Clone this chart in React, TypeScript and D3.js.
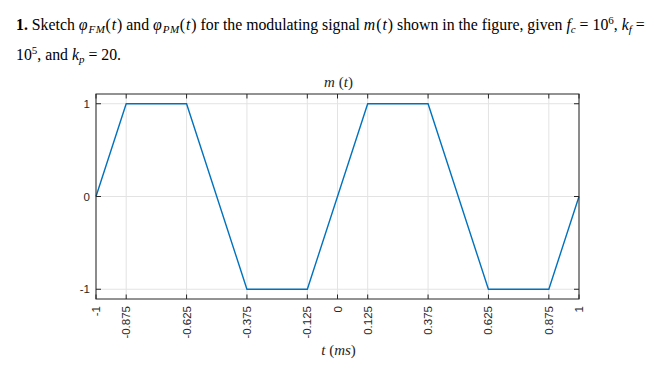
import React from "react";
import * as d3 from "d3";

// modulating signal m(t), t in ms
const timeMs = [-1, -0.875, -0.625, -0.375, -0.125, 0.125, 0.375, 0.625, 0.875, 1];
const signal = [0, 1, 1, -1, -1, 1, 1, -1, -1, 0];

const xTicks = [-1, -0.875, -0.625, -0.375, -0.125, 0, 0.125, 0.375, 0.625, 0.875, 1];
const xTickLabels = ["-1", "-0.875", "-0.625", "-0.375", "-0.125", "0", "0.125", "0.375", "0.625", "0.875", "1"];
const yTicks = [-1, 0, 1];
const yTickLabels = ["-1", "0", "1"];

const margin = { left: 96, right: 88, top: 94, bottom: 71 };
const totalWidth = 667;
const totalHeight = 370;

const axisColor = "#262626";
const gridColor = "#e3e3e3";
const lineColor = "#0072bd";

export default function App() {
  const width = totalWidth - margin.left - margin.right;
  const height = totalHeight - margin.top - margin.bottom;

  const xScale = d3.scaleLinear().domain([-1, 1]).range([0, width]);
  const yScale = d3.scaleLinear().domain([-1.105, 1.105]).range([height, 0]);

  const points = timeMs.map((t, i) => ({ x: t, y: signal[i] }));
  const line = d3
    .line<{ x: number; y: number }>()
    .x((d) => xScale(d.x))
    .y((d) => yScale(d.y));

  const serif = "'Liberation Serif', 'Times New Roman', serif";
  const sans = "'Liberation Sans', Arial, Helvetica, sans-serif";
  const fs = 15.8;
  const sub = 11;
  const ls = 1;

  return (
    <svg
      width={totalWidth}
      height={totalHeight}
      style={{ position: "absolute", left: 0, top: 0, background: "white" }}
    >
      {/* question text */}
      <text x={16} y={30} style={{ fontFamily: serif, fontSize: fs, fill: "#000" }}>
        <tspan fontWeight="bold">1.</tspan>
        <tspan> Sketch </tspan>
        <tspan fontStyle="italic" letterSpacing={ls}>φ</tspan>
        <tspan fontStyle="italic" fontSize={sub} dy={3} letterSpacing={0.5}>FM</tspan>
        <tspan dy={-3} letterSpacing={ls}>(</tspan>
        <tspan fontStyle="italic" letterSpacing={ls}>t</tspan>
        <tspan>) and </tspan>
        <tspan fontStyle="italic" letterSpacing={ls}>φ</tspan>
        <tspan fontStyle="italic" fontSize={sub} dy={3} letterSpacing={0.5}>PM</tspan>
        <tspan dy={-3} letterSpacing={ls}>(</tspan>
        <tspan fontStyle="italic" letterSpacing={ls}>t</tspan>
        <tspan>) for the modulating signal </tspan>
        <tspan fontStyle="italic" letterSpacing={ls}>m</tspan>
        <tspan letterSpacing={ls}>(</tspan>
        <tspan fontStyle="italic" letterSpacing={ls}>t</tspan>
        <tspan>) shown in the figure, given </tspan>
        <tspan fontStyle="italic">f</tspan>
        <tspan fontStyle="italic" fontSize={sub} dy={3}>c</tspan>
        <tspan dy={-3}> = 10</tspan>
        <tspan fontSize={sub} dy={-6}>6</tspan>
        <tspan dy={6}>, </tspan>
        <tspan fontStyle="italic">k</tspan>
        <tspan fontStyle="italic" fontSize={sub} dy={3}>f</tspan>
        <tspan dy={-3}> =</tspan>
      </text>
      <text x={16} y={60} style={{ fontFamily: serif, fontSize: fs, fill: "#000" }}>
        <tspan>10</tspan>
        <tspan fontSize={sub} dy={-6}>5</tspan>
        <tspan dy={6}>, and </tspan>
        <tspan fontStyle="italic">k</tspan>
        <tspan fontStyle="italic" fontSize={sub} dy={3}>p</tspan>
        <tspan dy={-3}> = 20.</tspan>
      </text>

      <g transform={`translate(${margin.left}, ${margin.top})`}>
        {/* grid */}
        {xTicks.map((t) => (
          <line key={"gx" + t} x1={xScale(t)} x2={xScale(t)} y1={0} y2={height} stroke={gridColor} strokeWidth={1} />
        ))}
        {yTicks.map((t) => (
          <line key={"gy" + t} x1={0} x2={width} y1={yScale(t)} y2={yScale(t)} stroke={gridColor} strokeWidth={1} />
        ))}

        {/* signal */}
        <path d={line(points) ?? ""} fill="none" stroke={lineColor} strokeWidth={1.4} />

        {/* box */}
        <rect x={0} y={0} width={width} height={height} fill="none" stroke={axisColor} strokeWidth={1} />

        {/* x ticks top & bottom */}
        {xTicks.map((t) => (
          <g key={"tx" + t}>
            <line x1={xScale(t)} x2={xScale(t)} y1={height} y2={height - 4.5} stroke={axisColor} />
            <line x1={xScale(t)} x2={xScale(t)} y1={0} y2={4.5} stroke={axisColor} />
          </g>
        ))}
        {/* y ticks left & right */}
        {yTicks.map((t) => (
          <g key={"ty" + t}>
            <line x1={0} x2={5} y1={yScale(t)} y2={yScale(t)} stroke={axisColor} />
            <line x1={width} x2={width - 5} y1={yScale(t)} y2={yScale(t)} stroke={axisColor} />
          </g>
        ))}

        {/* x tick labels, rotated */}
        {xTicks.map((t, i) => (
          <text
            key={"lx" + t}
            transform={`translate(${xScale(t)}, ${height + 7}) rotate(-90)`}
            textAnchor="end"
            dy="0.35em"
            style={{ fontFamily: sans, fontSize: 11.5, fill: axisColor }}
          >
            {xTickLabels[i]}
          </text>
        ))}
        {/* y tick labels */}
        {yTicks.map((t, i) => (
          <text
            key={"ly" + t}
            x={-6}
            y={yScale(t)}
            dy="0.35em"
            textAnchor="end"
            style={{ fontFamily: sans, fontSize: 11.5, fill: axisColor }}
          >
            {yTickLabels[i]}
          </text>
        ))}

        {/* title */}
        <text
          x={width / 2 + 1}
          y={-7}
          textAnchor="middle"
          style={{ fontFamily: serif, fontSize: 15, fill: axisColor }}
        >
          <tspan fontStyle="italic">m</tspan>
          <tspan> (</tspan>
          <tspan fontStyle="italic">t</tspan>
          <tspan>)</tspan>
        </text>
        {/* x label */}
        <text
          x={width / 2 + 1}
          y={height + 56}
          textAnchor="middle"
          style={{ fontFamily: serif, fontSize: 15, fill: axisColor }}
        >
          <tspan fontStyle="italic">t</tspan>
          <tspan> (</tspan>
          <tspan fontStyle="italic">ms</tspan>
          <tspan>)</tspan>
        </text>
      </g>
    </svg>
  );
}
